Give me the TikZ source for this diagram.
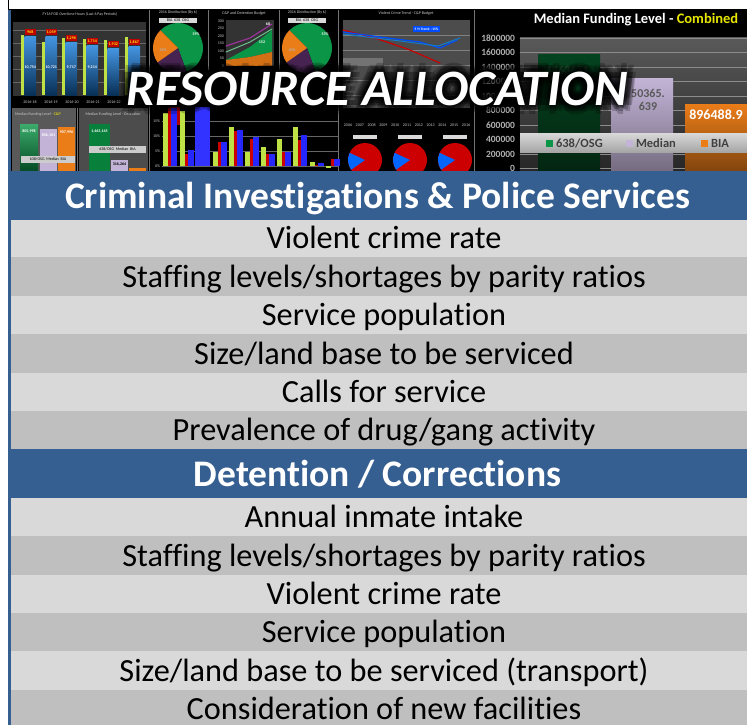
\documentclass[tikz,border=0pt]{standalone}
\usepackage{fontspec}
\setmainfont{Carlito}[Ligatures={NoCommon}]
\definecolor{hdrblue}{RGB}{54,95,145}
\definecolor{rowlt}{RGB}{217,217,217}
\definecolor{rowdk}{RGB}{191,191,191}
\definecolor{barblue}{RGB}{20,120,215}
\definecolor{barlime}{RGB}{190,225,70}
\definecolor{piegreen}{RGB}{10,150,70}
\definecolor{pieorange}{RGB}{235,125,25}
\definecolor{piedark}{RGB}{70,35,80}
\definecolor{lavend}{RGB}{195,180,215}
\definecolor{dimgreen}{RGB}{45,85,55}
\definecolor{combyellow}{RGB}{230,230,0}
\begin{document}
\begin{tikzpicture}[x=1pt,y=-1pt,line join=round,line cap=round]
	\tikzset{every node/.style={inner sep=0pt,outer sep=0pt},
		tinytxt/.style={font=\fontsize{4}{4}\selectfont,text=white!80!black},
		valtxt/.style={font=\bfseries\fontsize{4}{4}\selectfont,text=white},
		axlbl/.style={font=\bfseries\fontsize{9.5}{9.5}\selectfont,text=white!70!black,anchor=east},
		legtxt/.style={font=\bfseries\fontsize{12.5}{12.5}\selectfont,text=black!75,anchor=west},
		ttltxt/.style={font=\bfseries\itshape\fontsize{51}{51}\selectfont,anchor=base},
		rowtxt/.style={font=\fontsize{32.3}{32.3}\selectfont,anchor=base},
		hdrtxt/.style={font=\bfseries\fontsize{37.5}{37.5}\selectfont,text=white,anchor=base}}
	\useasboundingbox (0,0) rectangle (747,725);
	\fill[white] (0,0) rectangle (747,725);
	\begin{scope}
	\clip (10,10) rectangle (747,171);
	\fill[black] (10,10) rectangle (747,171);
	\draw[black!55,thin] (77,108)--(77,171) (149,10)--(149,171) (208,10)--(208,70) (279,10)--(279,70) (338,10)--(338,171) (474,10)--(474,171);
	\fill[black!80] (13,22) rectangle (146,96);
	\foreach \y in {30,43,56,69,82} \draw[black!60,very thin] (13,\y)--(146,\y);
	\node[tinytxt] (ottl) at (80,14) {FY16 FOD Overtime Hours (Last 6 Pay Periods)};
	\foreach \x/\a/\b/\r/\v [count=\i] in {21/35/37/968/{10,754},42/42/37/{1,059}/{10,721},62/38/43/{1,296}/{9,717},83/39/46/{1,714}/{9,214},104/40/49/{1,932}/{},125/37/47/{1,867}/{}}
	{
		\fill[barlime] (\x,\a) rectangle (\x+3,95);
		\fill[top color=barblue!80!white,bottom color=barblue!40!black] (\x+3.5,\b) rectangle (\x+15,95);
		\fill[red!75!black] (\x+3.5,\b-8) rectangle (\x+15,\b-2);
		\node[valtxt,text=yellow] (otr\i) at (\x+9.25,\b-5) {\r};
		\node[valtxt] (otv\i) at (\x+9.25,67) {\v};
	}
	\foreach \x/\yr [count=\i] in {30/2016-18,51/2016-19,72/2016-20,93/2016-21,114/2016-22}
		\node[tinytxt] (oty\i) at (\x,102) {\yr};
	\foreach \cx/\g/\p [count=\i] in {178/59\%/32\%,307/53\%/34\%}
	{
		\node[tinytxt] (pt\i) at (\cx,12) {2016 Distribution (By \$)};
		\fill[white!85!black] (\cx-19,18) rectangle (\cx+19,23);
		\node[tinytxt,text=black] (pl\i) at (\cx,20.5) {BIA\ \ 638\ \ OSG};
		\foreach \a/\b/\c in {-135/70/piegreen,70/145/piedark,145/225/pieorange}
			\fill[\c] (\cx,48) -- ++(\a:25) arc[start angle=\a,end angle=\b,radius=25] -- cycle;
		\node[valtxt] (pg\i) at (\cx+18,34) {\g};
		\node[valtxt,text=white!70!black] (po\i) at (\cx-15,50) {\p};
	}
	\node[tinytxt] (bttl) at (244,13) {C\&P and Detention Budget};
	\fill[black!80] (226,20) rectangle (274,66);
	\foreach \y/\v [count=\i] in {21/300,28.5/250,36/200,43.5/150,51/100,58.5/50,66/0}
		\node[tinytxt,anchor=east] (bax\i) at (224,\y) {\v};
	\fill[piegreen] (226,60)--(250,47)--(272,30)--(272,52)--(250,57)--cycle;
	\fill[pieorange!90!black] (226,66)--(226,60)--(250,57)--(272,52)--(272,66)--cycle;
	\draw[violet!80!white,line width=1.2pt] (226,46)--(250,38)--(272,24);
	\draw[piegreen!60!white,line width=1pt] (226,52)--(250,42)--(272,29);
	\node[valtxt] (b152) at (262,42) {152};
	\node[valtxt] (b68) at (268,24) {68};
	\node[tinytxt] (vttl) at (406,13) {Violent Crime Trend - C\&P Budget};
	\fill[black!70] (343,20) rectangle (470,108);
	\foreach \y in {35,50,65,80,95} \draw[black!50,very thin] (343,\y)--(470,\y);
	\draw[red!80!black,line width=1.2pt] (343,30)--(375,38)--(410,50)--(440,63);
	\draw[blue!70!cyan,line width=1.2pt] (343,32)--(380,37)--(420,42)--(440,48)--(457,40);
	\draw[cyan!60!blue,line width=1pt] (343,34)--(400,41)--(438,46)--(460,38);
	\fill[blue!70!cyan] (413,26) rectangle (440,32);
	\node[valtxt,font=\bfseries\fontsize{3.5}{3.5}\selectfont] (vtrd) at (426.5,29) {5 Yr Trend: -15\%};
	\fill[black!55] (343,58) rectangle (383,66);
	\foreach \yr [count=\i] in {2006,...,2016}
		\node[tinytxt] (vy\i) at (336.2+11.8*\i,125) {\yr};
	\foreach \cx [count=\i] in {365,410,455}
	{
		\fill[white!85!black] (\cx-12,135) rectangle (\cx+12,139);
		\fill[red!80!black] (\cx,160) circle (17);
		\fill[blue!60!cyan] (\cx,160) -- ++(145:17) arc[start angle=145,end angle=205,radius=17] -- cycle;
	}
	\fill[black!65] (12,108) rectangle (76,171);
	\node[tinytxt] (cpttl) at (38,114) {Median Funding Level - \textcolor{yellow}{C\&P}};
	\fill[top color=piegreen!80!white,bottom color=piegreen!50!black] (20,124) rectangle (38,171);
	\fill[lavend] (40,129) rectangle (57,171);
	\fill[pieorange] (58,127) rectangle (75,171);
	\foreach \x/\y/\v [count=\i] in {29/131/{805,998},48.5/135/{836,101},66.5/132/{907,996}}
		\node[valtxt] (cpv\i) at (\x,\y) {\v};
	\fill[white!80!black] (21,156) rectangle (75,163);
	\node[tinytxt,text=black] (cpleg) at (48,159.5) {638/OSG\ \ Median\ \ BIA};
	\fill[black!70] (79,108) rectangle (148,171);
	\node[tinytxt] (dtttl) at (113,114) {Median Funding Level - Detention};
	\fill[piegreen!85!black] (89,124) rectangle (110,171);
	\fill[lavend] (111,160) rectangle (128,171);
	\fill[pieorange] (129,168) rectangle (146,171);
	\node[valtxt] (dtv1) at (99.5,131) {1,463,145};
	\node[valtxt,text=black] (dtv2) at (119.5,164) {316,264};
	\fill[white!80!black] (89,146) rectangle (146,153);
	\node[tinytxt,text=black] (dtleg) at (117.5,149.5) {638/OSG\ \ Median\ \ BIA};
	\foreach \y/\v [count=\i] in {121/15\%,136/10\%,151/5\%,166/0\%}
	{
		\draw[black!60,very thin] (162,\y)--(338,\y);
		\node[tinytxt,anchor=east] (pax\i) at (160,\y) {\v};
	}
	\fill[red!70!black] (170,107) rectangle (180,125);
	\fill[blue!80] (195,107) rectangle (210,166);
	\foreach \x/\a/\b/\c in {163/113/108/108,180/111/154/150,213/152/142/142,229/127/131/130,245/152/139/137,261/147/154/154,277/139/152/152,293/127/140/135,310/162/165/163,326/168/159/159}
	{
		\fill[barlime] (\x,\a) rectangle (\x+5,166);
		\fill[red!80!black] (\x+5,\b) rectangle (\x+9,166);
		\fill[blue!85] (\x+8,\c) rectangle (\x+14,166);
	}
	\fill[top color=black!65,bottom color=black!85] (520,38) rectangle (747,171);
	\foreach \y/\v [count=\i] in {38/1800000,52.5/1600000,67/1400000,81.5/1200000,96/1000000,110.5/800000,125/600000,139.5/400000,154/200000,168.5/0}
	{
		\draw[black!45,thin] (520,\y)--(747,\y);
		\node[axlbl] (cax\i) at (515,\y) {\v};
	}
	\fill[top color=piegreen!45!black,bottom color=piegreen!25!black] (538,55) rectangle (600,171);
	\node[font=\bfseries\fontsize{12}{12}\selectfont,text=dimgreen] (cgv) at (569,70) {1563681.};
	\fill[top color=lavend,bottom color=lavend!60!black] (611,79) rectangle (673,171);
	\node[font=\bfseries\fontsize{12}{13}\selectfont,text=black!65,align=center] (cmv) at (648,100) {50365.\\639};
	\fill[top color=pieorange,bottom color=pieorange!55!black] (685,104) rectangle (747,171);
	\node[font=\bfseries\fontsize{14}{14}\selectfont,text=white] (cbv) at (716,115) {896488.9};
	\fill[top color=white!85!black,bottom color=white!65!black] (520,133) rectangle (747,152);
	\foreach \x/\c/\t [count=\i] in {546/piegreen/{638/OSG},626/lavend/Median,701/pieorange/BIA}
	{
		\fill[\c] (\x,140) rectangle (\x+7,147);
		\node[legtxt] (cleg\i) at (\x+10,143.5) {\t};
	}
	\node[font=\bfseries\fontsize{14.5}{14.5}\selectfont,text=white] (cttl) at (636,20) {Median Funding Level - \textcolor{combyellow}{Combined}};
	\foreach \r in {3,6,9}
		\foreach \a in {0,45,...,315}
			\node[ttltxt,text=black,opacity=0.22] (glow\r\a) at ({377.5+\r*cos(\a)},{105+\r*sin(\a)}) {RESOURCE ALLOCATION};
	\node[ttltxt,text=white] (ttl) at (377.5,105) {RESOURCE ALLOCATION};
	\end{scope}
	\draw[line width=1pt] (8.5,0)--(8.5,9.5)--(747,9.5);
	\fill[hdrblue] (8,10) rectangle (10.5,725);
	\fill[hdrblue] (8,171) rectangle (747,220);
	\node[hdrtxt] (hdrcip) at (377.5,208) {Criminal Investigations \& Police Services};
	\foreach \ya/\yb/\c/\txt [count=\i] in {220/257/rowlt/Violent crime rate,257/296/rowdk/{Staffing levels/shortages by parity ratios},296/334/rowlt/Service population,334/373/rowdk/{Size/land base to be serviced},373/411/rowlt/Calls for service,411/449/rowdk/{Prevalence of drug/gang activity}}
	{
		\fill[\c] (10.5,\ya) rectangle (747,\yb);
		\node[rowtxt] (cip\i) at (384,\yb-9) {\txt};
	}
	\fill[hdrblue] (8,449) rectangle (747,498);
	\node[hdrtxt] (hdrdet) at (377.5,486) {Detention / Corrections};
	\foreach \ya/\yb/\c/\txt [count=\i] in {498/536/rowlt/Annual inmate intake,536/575/rowdk/{Staffing levels/shortages by parity ratios},575/613/rowlt/Violent crime rate,613/651/rowdk/Service population,651/690/rowlt/{Size/land base to be serviced (transport)},690/728/rowdk/Consideration of new facilities}
	{
		\fill[\c] (10.5,\ya) rectangle (747,\yb);
		\node[rowtxt] (det\i) at (384,\yb-9) {\txt};
	}
\end{tikzpicture}
\end{document}
